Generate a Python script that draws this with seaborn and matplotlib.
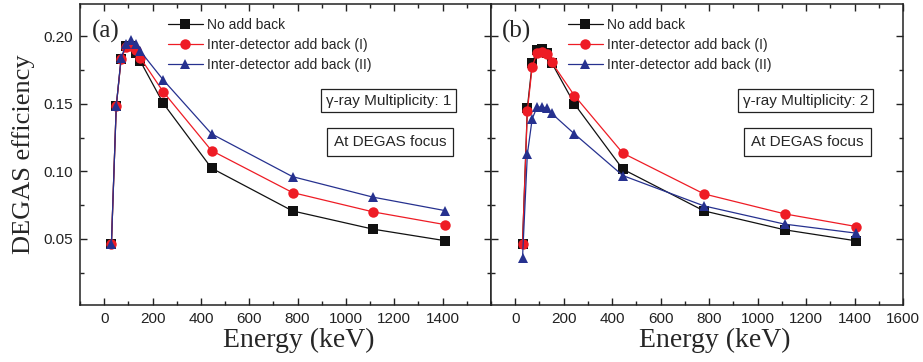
import matplotlib
matplotlib.use("Agg")
import matplotlib.pyplot as plt
import seaborn as sns
import pandas as pd
from matplotlib.ticker import MultipleLocator

# ---- data ----
energy = [30, 50, 70, 90, 110, 130, 150, 244, 444, 779, 1112, 1408]

a_no_add = [0.0465, 0.1485, 0.183, 0.193, 0.193, 0.188, 0.1815, 0.1505, 0.1024, 0.0707, 0.0572, 0.0487]
a_add_I = [0.0465, 0.1485, 0.183, 0.192, 0.193, 0.190, 0.184, 0.159, 0.1154, 0.0843, 0.0700, 0.0606]
a_add_II = [0.0465, 0.1485, 0.184, 0.194, 0.197, 0.194, 0.189, 0.1678, 0.1278, 0.0961, 0.0809, 0.0710]

b_no_add = [0.0465, 0.147, 0.180, 0.190, 0.1905, 0.1876, 0.1806, 0.150, 0.1016, 0.0707, 0.0567, 0.0485]
b_add_I = [0.0463, 0.1448, 0.1776, 0.1876, 0.1883, 0.1868, 0.1809, 0.1562, 0.1135, 0.0833, 0.0685, 0.0591]
b_add_II = [0.0357, 0.1127, 0.139, 0.1476, 0.1476, 0.147, 0.143, 0.1278, 0.0969, 0.0744, 0.0609, 0.0542]

series_labels = ["No add back", "Inter-detector add back (I)", "Inter-detector add back (II)"]
panel_labels = ["(a)", "(b)"]
multiplicity_texts = ["\u03b3-ray Multiplicity: 1", "\u03b3-ray Multiplicity: 2"]
focus_text = "At DEGAS focus"
x_ticks = [0, 200, 400, 600, 800, 1000, 1200, 1400, 1600]
y_ticks = [0.05, 0.10, 0.15, 0.20]

colors = ["#111111", "#ee1c25", "#26318f"]
markers = ["s", "o", "^"]
msizes = [6.5, 7.5, 7.5]

sns.set_theme(style="ticks")
plt.rcParams["font.family"] = ["Liberation Sans", "DejaVu Sans"]
plt.rcParams["xtick.direction"] = "in"
plt.rcParams["ytick.direction"] = "in"

fig = plt.figure(figsize=(9.23, 3.62), dpi=100)
W, H = 923, 362
top_px, bot_px = 4, 305
ax_a = fig.add_axes([80 / W, 1 - bot_px / H, 411 / W, (bot_px - top_px) / H])
ax_b = fig.add_axes([491 / W, 1 - bot_px / H, 412 / W, (bot_px - top_px) / H])

panels = [
    (ax_a, [a_no_add, a_add_I, a_add_II]),
    (ax_b, [b_no_add, b_add_I, b_add_II]),
]

for i, (ax, vals) in enumerate(panels):
    rows = []
    for lab, v in zip(series_labels, vals):
        for e, y in zip(energy, v):
            rows.append({"Energy": e, "eff": y, "series": lab})
    df = pd.DataFrame(rows)
    for j, lab in enumerate(series_labels):
        sns.lineplot(data=df[df.series == lab], x="Energy", y="eff", ax=ax,
                     color=colors[j], marker=markers[j], markersize=msizes[j],
                     markeredgewidth=0, linewidth=0.9, label=lab, sort=False)
    ax.set_xlim(-100, 1600)
    ax.set_ylim(0.001, 0.224)
    ax.set_xticks(x_ticks)
    if i == 0:
        ax.set_xticklabels([str(t) for t in x_ticks[:-1]] + [""])
    ax.xaxis.set_minor_locator(MultipleLocator(100))
    ax.set_yticks(y_ticks)
    ax.yaxis.set_minor_locator(MultipleLocator(0.025))
    ax.tick_params(which="both", top=True, right=True, direction="in", labelsize=11,
                   colors="#222222", width=1.0)
    ax.tick_params(which="major", length=5, pad=5)
    ax.tick_params(which="minor", length=3)
    for s in ax.spines.values():
        s.set_linewidth(1.1)
        s.set_color("#222222")
    if i == 0:
        ax.yaxis.set_major_formatter(matplotlib.ticker.FormatStrFormatter("%.2f"))
        ax.set_ylabel("DEGAS efficiency", family=["Liberation Serif"], fontsize=19, labelpad=6)
    else:
        ax.set_yticklabels([])
        ax.set_ylabel("")
    ax.set_xlabel("Energy (keV)", family=["Liberation Serif"], fontsize=20, labelpad=3)
    ax.xaxis.set_label_coords([0.533, 0.544][i], -0.075, transform=ax.transAxes)
    ax.xaxis.label.set_va("top")

    ax.text(0.028 if i == 0 else 0.027, 0.91, panel_labels[i], transform=ax.transAxes,
            family=["Liberation Serif"], fontsize=18, ha="left", va="center")

    leg = ax.legend(loc="upper left", bbox_to_anchor=(0.214 if i == 0 else 0.187, 0.955),
                    frameon=False, fontsize=10, handlelength=2.5, handletextpad=0.3,
                    labelspacing=0.45, borderpad=0, borderaxespad=0)

    bx = [0.750, 0.763][i]
    ax.text(bx, 0.679, multiplicity_texts[i], transform=ax.transAxes, fontsize=11,
            ha="center", va="center",
            bbox=dict(boxstyle="square,pad=0.3", fc="white", ec="#222222", lw=0.9))
    bx2 = [0.754, 0.768][i]
    ax.text(bx2, 0.541, focus_text, transform=ax.transAxes, fontsize=11,
            ha="center", va="center",
            bbox=dict(boxstyle="square,pad=0.45", fc="white", ec="#222222", lw=0.9))

fig.savefig("out.png", dpi=100)
